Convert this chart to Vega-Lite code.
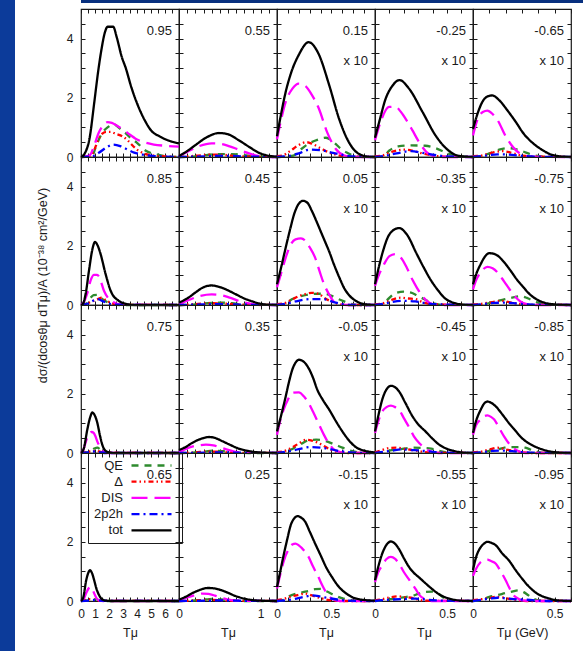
{
"$schema":"https://vega.github.io/schema/vega-lite/v6.json",
"padding":0,
"background":"#ffffff",
"config":{
"font":"Liberation Sans",
"view":{"stroke":"#1a1a1a","strokeWidth":1.2},
"axis":{"grid":false,"domain":false,"tickSize":-4,"tickColor":"#1a1a1a","tickWidth":1,"labelFont":"Liberation Sans","labelFontSize":12,"labelColor":"#1a1a1a","labelPadding":11,"titleFont":"Liberation Sans","titleFontSize":12.5,"titleFontWeight":"normal","titleColor":"#1a1a1a","labelFlush":false,"labelOverlap":false},
"axisX":{"titlePadding":7},
"axisY":{"tickCount":10,"labelPadding":12,"labelExpr":"datum.value%2==0?''+datum.value:''"},
"legend":{"orient":"none","legendX":88,"legendY":453,"direction":"vertical","strokeColor":"#1a1a1a","padding":5,"symbolType":"M-3.333,0H3.333","symbolSize":144,"symbolStrokeWidth":2.3,"labelFont":"Liberation Sans","labelFontSize":13,"labelColor":"#1a1a1a","labelAlign":"right","labelOffset":-36,"symbolOffset":51,"rowPadding":1.2},
"line":{"strokeWidth":2.3,"interpolate":"monotone"},
"text":{"font":"Liberation Sans","fontSize":13,"color":"#1a1a1a"}
},
"datasets":{
"d1":[{"s":"QE","x":0,"y":0},{"s":"QE","x":0.8,"y":0.05},{"s":"QE","x":1.1,"y":0.4},{"s":"QE","x":1.5,"y":0.8},{"s":"QE","x":1.9,"y":1.0},{"s":"QE","x":2.35,"y":1.1},{"s":"QE","x":2.8,"y":0.95},{"s":"QE","x":3.2,"y":0.8},{"s":"QE","x":3.6,"y":0.62},{"s":"QE","x":4.0,"y":0.48},{"s":"QE","x":4.6,"y":0.22},{"s":"QE","x":5.5,"y":0.08},{"s":"QE","x":6.2,"y":0.02},{"s":"QE","x":7,"y":0},
{"s":"Δ","x":0,"y":0},{"s":"Δ","x":0.7,"y":0.05},{"s":"Δ","x":1.0,"y":0.3},{"s":"Δ","x":1.25,"y":0.6},{"s":"Δ","x":1.5,"y":0.78},{"s":"Δ","x":1.8,"y":0.85},{"s":"Δ","x":2.1,"y":0.85},{"s":"Δ","x":2.5,"y":0.78},{"s":"Δ","x":2.95,"y":0.7},{"s":"Δ","x":3.3,"y":0.58},{"s":"Δ","x":3.6,"y":0.43},{"s":"Δ","x":4.0,"y":0.25},{"s":"Δ","x":4.5,"y":0.12},{"s":"Δ","x":5.2,"y":0.05},{"s":"Δ","x":6,"y":0.02},{"s":"Δ","x":7,"y":0},
{"s":"DIS","x":0,"y":0},{"s":"DIS","x":0.6,"y":0.05},{"s":"DIS","x":0.95,"y":0.4},{"s":"DIS","x":1.25,"y":0.8},{"s":"DIS","x":1.55,"y":1.05},{"s":"DIS","x":1.9,"y":1.18},{"s":"DIS","x":2.2,"y":1.15},{"s":"DIS","x":2.6,"y":1.05},{"s":"DIS","x":3.0,"y":0.93},{"s":"DIS","x":3.5,"y":0.75},{"s":"DIS","x":3.9,"y":0.62},{"s":"DIS","x":4.5,"y":0.5},{"s":"DIS","x":5.2,"y":0.42},{"s":"DIS","x":6,"y":0.38},{"s":"DIS","x":7,"y":0.35},
{"s":"2p2h","x":0,"y":0},{"s":"2p2h","x":0.8,"y":0.02},{"s":"2p2h","x":1.3,"y":0.15},{"s":"2p2h","x":1.8,"y":0.32},{"s":"2p2h","x":2.3,"y":0.42},{"s":"2p2h","x":2.8,"y":0.37},{"s":"2p2h","x":3.2,"y":0.28},{"s":"2p2h","x":3.8,"y":0.15},{"s":"2p2h","x":4.4,"y":0.08},{"s":"2p2h","x":5.2,"y":0.03},{"s":"2p2h","x":7,"y":0},
{"s":"tot","x":0,"y":0},{"s":"tot","x":0.3,"y":0.15},{"s":"tot","x":0.6,"y":0.6},{"s":"tot","x":0.95,"y":1.85},{"s":"tot","x":1.2,"y":2.8},{"s":"tot","x":1.45,"y":3.6},{"s":"tot","x":1.7,"y":4.2},{"s":"tot","x":1.9,"y":4.4},{"s":"tot","x":2.3,"y":4.4},{"s":"tot","x":2.55,"y":4.05},{"s":"tot","x":2.9,"y":3.4},{"s":"tot","x":3.2,"y":3.0},{"s":"tot","x":3.6,"y":2.35},{"s":"tot","x":4.1,"y":1.7},{"s":"tot","x":4.6,"y":1.2},{"s":"tot","x":5.0,"y":0.9},{"s":"tot","x":5.6,"y":0.7},{"s":"tot","x":6.3,"y":0.55},{"s":"tot","x":7,"y":0.46}],
"d2":[{"s":"QE","x":0,"y":0},{"s":"QE","x":0.2,"y":0.02},{"s":"QE","x":0.35,"y":0.07},{"s":"QE","x":0.5,"y":0.1},{"s":"QE","x":0.65,"y":0.1},{"s":"QE","x":0.8,"y":0.06},{"s":"QE","x":0.95,"y":0.02},{"s":"QE","x":1.2,"y":0},
{"s":"Δ","x":0,"y":0},{"s":"Δ","x":0.2,"y":0.04},{"s":"Δ","x":0.4,"y":0.08},{"s":"Δ","x":0.55,"y":0.07},{"s":"Δ","x":0.7,"y":0.03},{"s":"Δ","x":0.9,"y":0.01},{"s":"Δ","x":1.2,"y":0},
{"s":"DIS","x":0,"y":0.02},{"s":"DIS","x":0.12,"y":0.2},{"s":"DIS","x":0.25,"y":0.37},{"s":"DIS","x":0.4,"y":0.46},{"s":"DIS","x":0.5,"y":0.45},{"s":"DIS","x":0.62,"y":0.36},{"s":"DIS","x":0.72,"y":0.26},{"s":"DIS","x":0.85,"y":0.13},{"s":"DIS","x":0.95,"y":0.05},{"s":"DIS","x":1.05,"y":0.01},{"s":"DIS","x":1.2,"y":0},
{"s":"2p2h","x":0,"y":0},{"s":"2p2h","x":0.3,"y":0.02},{"s":"2p2h","x":0.55,"y":0.04},{"s":"2p2h","x":0.8,"y":0.02},{"s":"2p2h","x":1.2,"y":0},
{"s":"tot","x":0,"y":0.03},{"s":"tot","x":0.1,"y":0.2},{"s":"tot","x":0.2,"y":0.4},{"s":"tot","x":0.33,"y":0.65},{"s":"tot","x":0.49,"y":0.81},{"s":"tot","x":0.6,"y":0.77},{"s":"tot","x":0.73,"y":0.57},{"s":"tot","x":0.86,"y":0.34},{"s":"tot","x":0.98,"y":0.14},{"s":"tot","x":1.1,"y":0.04},{"s":"tot","x":1.2,"y":0.01}],
"d3":[{"s":"QE","x":0,"y":0},{"s":"QE","x":0.15,"y":0.05},{"s":"QE","x":0.2,"y":0.2},{"s":"QE","x":0.29,"y":0.45},{"s":"QE","x":0.37,"y":0.58},{"s":"QE","x":0.45,"y":0.65},{"s":"QE","x":0.52,"y":0.5},{"s":"QE","x":0.58,"y":0.3},{"s":"QE","x":0.64,"y":0.15},{"s":"QE","x":0.72,"y":0.03},{"s":"QE","x":0.8,"y":0},{"s":"QE","x":0.9,"y":0},
{"s":"Δ","x":0,"y":0.03},{"s":"Δ","x":0.05,"y":0.05},{"s":"Δ","x":0.12,"y":0.2},{"s":"Δ","x":0.19,"y":0.38},{"s":"Δ","x":0.27,"y":0.5},{"s":"Δ","x":0.32,"y":0.45},{"s":"Δ","x":0.4,"y":0.3},{"s":"Δ","x":0.48,"y":0.15},{"s":"Δ","x":0.55,"y":0.07},{"s":"Δ","x":0.65,"y":0.01},{"s":"Δ","x":0.9,"y":0},
{"s":"DIS","x":0,"y":0.6},{"s":"DIS","x":0.04,"y":1.3},{"s":"DIS","x":0.08,"y":1.86},{"s":"DIS","x":0.14,"y":2.3},{"s":"DIS","x":0.2,"y":2.48},{"s":"DIS","x":0.26,"y":2.4},{"s":"DIS","x":0.32,"y":2.1},{"s":"DIS","x":0.385,"y":1.63},{"s":"DIS","x":0.46,"y":0.84},{"s":"DIS","x":0.54,"y":0.27},{"s":"DIS","x":0.62,"y":0.05},{"s":"DIS","x":0.7,"y":0},{"s":"DIS","x":0.9,"y":0},
{"s":"2p2h","x":0,"y":0},{"s":"2p2h","x":0.1,"y":0.03},{"s":"2p2h","x":0.2,"y":0.12},{"s":"2p2h","x":0.3,"y":0.25},{"s":"2p2h","x":0.4,"y":0.23},{"s":"2p2h","x":0.5,"y":0.15},{"s":"2p2h","x":0.6,"y":0.07},{"s":"2p2h","x":0.7,"y":0.02},{"s":"2p2h","x":0.9,"y":0},
{"s":"tot","x":0,"y":0.7},{"s":"tot","x":0.04,"y":1.5},{"s":"tot","x":0.08,"y":2.2},{"s":"tot","x":0.13,"y":2.85},{"s":"tot","x":0.2,"y":3.45},{"s":"tot","x":0.29,"y":3.88},{"s":"tot","x":0.38,"y":3.5},{"s":"tot","x":0.48,"y":2.42},{"s":"tot","x":0.57,"y":1.29},{"s":"tot","x":0.66,"y":0.5},{"s":"tot","x":0.75,"y":0.11},{"s":"tot","x":0.84,"y":0.01},{"s":"tot","x":0.9,"y":0}],
"d4":[{"s":"QE","x":0,"y":0},{"s":"QE","x":0.06,"y":0.03},{"s":"QE","x":0.1,"y":0.22},{"s":"QE","x":0.16,"y":0.36},{"s":"QE","x":0.25,"y":0.39},{"s":"QE","x":0.35,"y":0.38},{"s":"QE","x":0.42,"y":0.3},{"s":"QE","x":0.5,"y":0.13},{"s":"QE","x":0.57,"y":0.03},{"s":"QE","x":0.68,"y":0},
{"s":"Δ","x":0,"y":0.02},{"s":"Δ","x":0.05,"y":0.05},{"s":"Δ","x":0.12,"y":0.18},{"s":"Δ","x":0.2,"y":0.25},{"s":"Δ","x":0.27,"y":0.2},{"s":"Δ","x":0.33,"y":0.12},{"s":"Δ","x":0.4,"y":0.05},{"s":"Δ","x":0.5,"y":0.01},{"s":"Δ","x":0.68,"y":0},
{"s":"DIS","x":0,"y":0.57},{"s":"DIS","x":0.04,"y":1.2},{"s":"DIS","x":0.097,"y":1.69},{"s":"DIS","x":0.14,"y":1.7},{"s":"DIS","x":0.18,"y":1.52},{"s":"DIS","x":0.224,"y":1.2},{"s":"DIS","x":0.26,"y":0.9},{"s":"DIS","x":0.305,"y":0.51},{"s":"DIS","x":0.375,"y":0.1},{"s":"DIS","x":0.45,"y":0},{"s":"DIS","x":0.68,"y":0},
{"s":"2p2h","x":0,"y":0},{"s":"2p2h","x":0.08,"y":0.05},{"s":"2p2h","x":0.15,"y":0.12},{"s":"2p2h","x":0.25,"y":0.2},{"s":"2p2h","x":0.33,"y":0.14},{"s":"2p2h","x":0.4,"y":0.08},{"s":"2p2h","x":0.5,"y":0.02},{"s":"2p2h","x":0.68,"y":0},
{"s":"tot","x":0,"y":0.65},{"s":"tot","x":0.03,"y":1.2},{"s":"tot","x":0.074,"y":1.97},{"s":"tot","x":0.12,"y":2.4},{"s":"tot","x":0.17,"y":2.6},{"s":"tot","x":0.236,"y":2.31},{"s":"tot","x":0.33,"y":1.52},{"s":"tot","x":0.42,"y":0.73},{"s":"tot","x":0.51,"y":0.22},{"s":"tot","x":0.58,"y":0.04},{"s":"tot","x":0.68,"y":0}],
"d5":[{"s":"QE","x":0,"y":0},{"s":"QE","x":0.05,"y":0.03},{"s":"QE","x":0.1,"y":0.12},{"s":"QE","x":0.16,"y":0.25},{"s":"QE","x":0.21,"y":0.3},{"s":"QE","x":0.26,"y":0.27},{"s":"QE","x":0.3,"y":0.2},{"s":"QE","x":0.36,"y":0.08},{"s":"QE","x":0.42,"y":0.02},{"s":"QE","x":0.6,"y":0},
{"s":"Δ","x":0,"y":0.03},{"s":"Δ","x":0.05,"y":0.05},{"s":"Δ","x":0.12,"y":0.15},{"s":"Δ","x":0.18,"y":0.2},{"s":"Δ","x":0.23,"y":0.15},{"s":"Δ","x":0.28,"y":0.07},{"s":"Δ","x":0.35,"y":0.02},{"s":"Δ","x":0.6,"y":0},
{"s":"DIS","x":0,"y":0.73},{"s":"DIS","x":0.03,"y":1.3},{"s":"DIS","x":0.06,"y":1.52},{"s":"DIS","x":0.088,"y":1.57},{"s":"DIS","x":0.12,"y":1.45},{"s":"DIS","x":0.15,"y":1.25},{"s":"DIS","x":0.2,"y":0.7},{"s":"DIS","x":0.25,"y":0.3},{"s":"DIS","x":0.3,"y":0.08},{"s":"DIS","x":0.35,"y":0.01},{"s":"DIS","x":0.6,"y":0},
{"s":"2p2h","x":0,"y":0},{"s":"2p2h","x":0.08,"y":0.05},{"s":"2p2h","x":0.15,"y":0.09},{"s":"2p2h","x":0.22,"y":0.08},{"s":"2p2h","x":0.3,"y":0.04},{"s":"2p2h","x":0.4,"y":0.01},{"s":"2p2h","x":0.6,"y":0},
{"s":"tot","x":0,"y":0.95},{"s":"tot","x":0.03,"y":1.5},{"s":"tot","x":0.057,"y":1.86},{"s":"tot","x":0.09,"y":2.05},{"s":"tot","x":0.118,"y":2.08},{"s":"tot","x":0.16,"y":1.92},{"s":"tot","x":0.21,"y":1.58},{"s":"tot","x":0.26,"y":1.2},{"s":"tot","x":0.31,"y":0.79},{"s":"tot","x":0.36,"y":0.5},{"s":"tot","x":0.415,"y":0.27},{"s":"tot","x":0.47,"y":0.1},{"s":"tot","x":0.52,"y":0.03},{"s":"tot","x":0.6,"y":0}],
"d6":[{"s":"QE","x":0,"y":0},{"s":"QE","x":0.4,"y":0.05},{"s":"QE","x":0.7,"y":0.25},{"s":"QE","x":0.9,"y":0.33},{"s":"QE","x":1.19,"y":0.34},{"s":"QE","x":1.4,"y":0.25},{"s":"QE","x":1.76,"y":0.13},{"s":"QE","x":2.2,"y":0.04},{"s":"QE","x":2.8,"y":0},{"s":"QE","x":7,"y":0},
{"s":"Δ","x":0,"y":0},{"s":"Δ","x":0.4,"y":0.05},{"s":"Δ","x":0.8,"y":0.12},{"s":"Δ","x":1.2,"y":0.2},{"s":"Δ","x":1.5,"y":0.25},{"s":"Δ","x":1.8,"y":0.15},{"s":"Δ","x":2.2,"y":0.06},{"s":"Δ","x":2.8,"y":0.01},{"s":"Δ","x":7,"y":0},
{"s":"DIS","x":0,"y":0},{"s":"DIS","x":0.2,"y":0.1},{"s":"DIS","x":0.45,"y":0.4},{"s":"DIS","x":0.7,"y":0.85},{"s":"DIS","x":0.93,"y":1.02},{"s":"DIS","x":1.15,"y":1.02},{"s":"DIS","x":1.3,"y":0.95},{"s":"DIS","x":1.64,"y":0.48},{"s":"DIS","x":2.0,"y":0.2},{"s":"DIS","x":2.3,"y":0.1},{"s":"DIS","x":2.8,"y":0.02},{"s":"DIS","x":7,"y":0},
{"s":"2p2h","x":0,"y":0},{"s":"2p2h","x":0.5,"y":0.05},{"s":"2p2h","x":0.9,"y":0.15},{"s":"2p2h","x":1.2,"y":0.2},{"s":"2p2h","x":1.6,"y":0.12},{"s":"2p2h","x":2.0,"y":0.05},{"s":"2p2h","x":2.6,"y":0.01},{"s":"2p2h","x":7,"y":0},
{"s":"tot","x":0,"y":0},{"s":"tot","x":0.15,"y":0.05},{"s":"tot","x":0.33,"y":0.37},{"s":"tot","x":0.57,"y":1.16},{"s":"tot","x":0.8,"y":1.85},{"s":"tot","x":1.0,"y":2.13},{"s":"tot","x":1.2,"y":2.0},{"s":"tot","x":1.4,"y":1.72},{"s":"tot","x":1.76,"y":1.04},{"s":"tot","x":2.12,"y":0.48},{"s":"tot","x":2.7,"y":0.14},{"s":"tot","x":3.2,"y":0.04},{"s":"tot","x":3.8,"y":0},{"s":"tot","x":7,"y":0}],
"d7":[{"s":"QE","x":0,"y":0},{"s":"QE","x":0.2,"y":0.02},{"s":"QE","x":0.35,"y":0.06},{"s":"QE","x":0.5,"y":0.08},{"s":"QE","x":0.65,"y":0.06},{"s":"QE","x":0.8,"y":0.02},{"s":"QE","x":1.2,"y":0},
{"s":"Δ","x":0,"y":0},{"s":"Δ","x":0.2,"y":0.03},{"s":"Δ","x":0.4,"y":0.06},{"s":"Δ","x":0.55,"y":0.05},{"s":"Δ","x":0.7,"y":0.02},{"s":"Δ","x":1.2,"y":0},
{"s":"DIS","x":0,"y":0.03},{"s":"DIS","x":0.12,"y":0.17},{"s":"DIS","x":0.25,"y":0.3},{"s":"DIS","x":0.4,"y":0.36},{"s":"DIS","x":0.52,"y":0.33},{"s":"DIS","x":0.62,"y":0.25},{"s":"DIS","x":0.78,"y":0.1},{"s":"DIS","x":0.9,"y":0.03},{"s":"DIS","x":1.0,"y":0},{"s":"DIS","x":1.2,"y":0},
{"s":"2p2h","x":0,"y":0},{"s":"2p2h","x":0.3,"y":0.02},{"s":"2p2h","x":0.5,"y":0.03},{"s":"2p2h","x":0.8,"y":0.01},{"s":"2p2h","x":1.2,"y":0},
{"s":"tot","x":0,"y":0.08},{"s":"tot","x":0.1,"y":0.22},{"s":"tot","x":0.2,"y":0.42},{"s":"tot","x":0.3,"y":0.6},{"s":"tot","x":0.4,"y":0.66},{"s":"tot","x":0.47,"y":0.63},{"s":"tot","x":0.58,"y":0.52},{"s":"tot","x":0.69,"y":0.37},{"s":"tot","x":0.8,"y":0.22},{"s":"tot","x":0.9,"y":0.12},{"s":"tot","x":1.0,"y":0.04},{"s":"tot","x":1.1,"y":0.01},{"s":"tot","x":1.2,"y":0}],
"d8":[{"s":"QE","x":0,"y":0},{"s":"QE","x":0.08,"y":0.05},{"s":"QE","x":0.14,"y":0.2},{"s":"QE","x":0.22,"y":0.3},{"s":"QE","x":0.32,"y":0.37},{"s":"QE","x":0.42,"y":0.38},{"s":"QE","x":0.49,"y":0.33},{"s":"QE","x":0.55,"y":0.22},{"s":"QE","x":0.61,"y":0.13},{"s":"QE","x":0.68,"y":0.04},{"s":"QE","x":0.75,"y":0},{"s":"QE","x":0.9,"y":0},
{"s":"Δ","x":0,"y":0.03},{"s":"Δ","x":0.06,"y":0.05},{"s":"Δ","x":0.12,"y":0.15},{"s":"Δ","x":0.2,"y":0.3},{"s":"Δ","x":0.26,"y":0.37},{"s":"Δ","x":0.32,"y":0.41},{"s":"Δ","x":0.38,"y":0.38},{"s":"Δ","x":0.43,"y":0.25},{"s":"Δ","x":0.48,"y":0.15},{"s":"Δ","x":0.55,"y":0.05},{"s":"Δ","x":0.65,"y":0},{"s":"Δ","x":0.9,"y":0},
{"s":"DIS","x":0,"y":0.6},{"s":"DIS","x":0.04,"y":1.1},{"s":"DIS","x":0.08,"y":1.6},{"s":"DIS","x":0.12,"y":2.0},{"s":"DIS","x":0.17,"y":2.22},{"s":"DIS","x":0.22,"y":2.25},{"s":"DIS","x":0.26,"y":2.17},{"s":"DIS","x":0.3,"y":1.95},{"s":"DIS","x":0.35,"y":1.6},{"s":"DIS","x":0.39,"y":1.15},{"s":"DIS","x":0.43,"y":0.72},{"s":"DIS","x":0.48,"y":0.35},{"s":"DIS","x":0.52,"y":0.12},{"s":"DIS","x":0.57,"y":0.03},{"s":"DIS","x":0.65,"y":0},{"s":"DIS","x":0.9,"y":0},
{"s":"2p2h","x":0,"y":0},{"s":"2p2h","x":0.08,"y":0.04},{"s":"2p2h","x":0.17,"y":0.12},{"s":"2p2h","x":0.25,"y":0.18},{"s":"2p2h","x":0.32,"y":0.2},{"s":"2p2h","x":0.42,"y":0.2},{"s":"2p2h","x":0.52,"y":0.1},{"s":"2p2h","x":0.6,"y":0.03},{"s":"2p2h","x":0.7,"y":0},{"s":"2p2h","x":0.9,"y":0},
{"s":"tot","x":0,"y":0.7},{"s":"tot","x":0.04,"y":1.3},{"s":"tot","x":0.08,"y":1.94},{"s":"tot","x":0.12,"y":2.55},{"s":"tot","x":0.16,"y":3.1},{"s":"tot","x":0.2,"y":3.42},{"s":"tot","x":0.24,"y":3.52},{"s":"tot","x":0.28,"y":3.45},{"s":"tot","x":0.32,"y":3.18},{"s":"tot","x":0.36,"y":2.85},{"s":"tot","x":0.4,"y":2.5},{"s":"tot","x":0.44,"y":2.15},{"s":"tot","x":0.48,"y":1.8},{"s":"tot","x":0.52,"y":1.4},{"s":"tot","x":0.57,"y":0.95},{"s":"tot","x":0.62,"y":0.55},{"s":"tot","x":0.67,"y":0.3},{"s":"tot","x":0.72,"y":0.15},{"s":"tot","x":0.8,"y":0.03},{"s":"tot","x":0.9,"y":0}],
"d9":[{"s":"QE","x":0,"y":0},{"s":"QE","x":0.04,"y":0.03},{"s":"QE","x":0.08,"y":0.15},{"s":"QE","x":0.13,"y":0.37},{"s":"QE","x":0.2,"y":0.45},{"s":"QE","x":0.25,"y":0.42},{"s":"QE","x":0.29,"y":0.33},{"s":"QE","x":0.34,"y":0.2},{"s":"QE","x":0.39,"y":0.08},{"s":"QE","x":0.45,"y":0.01},{"s":"QE","x":0.68,"y":0},
{"s":"Δ","x":0,"y":0.02},{"s":"Δ","x":0.05,"y":0.05},{"s":"Δ","x":0.12,"y":0.18},{"s":"Δ","x":0.18,"y":0.25},{"s":"Δ","x":0.23,"y":0.22},{"s":"Δ","x":0.28,"y":0.2},{"s":"Δ","x":0.33,"y":0.1},{"s":"Δ","x":0.39,"y":0.03},{"s":"Δ","x":0.68,"y":0},
{"s":"DIS","x":0,"y":0.65},{"s":"DIS","x":0.03,"y":1.05},{"s":"DIS","x":0.063,"y":1.38},{"s":"DIS","x":0.1,"y":1.65},{"s":"DIS","x":0.14,"y":1.72},{"s":"DIS","x":0.18,"y":1.6},{"s":"DIS","x":0.22,"y":1.27},{"s":"DIS","x":0.26,"y":0.85},{"s":"DIS","x":0.29,"y":0.59},{"s":"DIS","x":0.33,"y":0.3},{"s":"DIS","x":0.36,"y":0.14},{"s":"DIS","x":0.4,"y":0.03},{"s":"DIS","x":0.45,"y":0},{"s":"DIS","x":0.68,"y":0},
{"s":"2p2h","x":0,"y":0},{"s":"2p2h","x":0.06,"y":0.04},{"s":"2p2h","x":0.12,"y":0.1},{"s":"2p2h","x":0.2,"y":0.14},{"s":"2p2h","x":0.28,"y":0.12},{"s":"2p2h","x":0.34,"y":0.07},{"s":"2p2h","x":0.4,"y":0.03},{"s":"2p2h","x":0.68,"y":0},
{"s":"tot","x":0,"y":0.7},{"s":"tot","x":0.03,"y":1.35},{"s":"tot","x":0.063,"y":1.94},{"s":"tot","x":0.09,"y":2.3},{"s":"tot","x":0.12,"y":2.5},{"s":"tot","x":0.167,"y":2.6},{"s":"tot","x":0.22,"y":2.39},{"s":"tot","x":0.29,"y":1.72},{"s":"tot","x":0.34,"y":1.25},{"s":"tot","x":0.39,"y":0.82},{"s":"tot","x":0.44,"y":0.48},{"s":"tot","x":0.48,"y":0.25},{"s":"tot","x":0.53,"y":0.1},{"s":"tot","x":0.57,"y":0.04},{"s":"tot","x":0.62,"y":0.01},{"s":"tot","x":0.68,"y":0}],
"d10":[{"s":"QE","x":0,"y":0},{"s":"QE","x":0.06,"y":0.02},{"s":"QE","x":0.11,"y":0.08},{"s":"QE","x":0.15,"y":0.14},{"s":"QE","x":0.19,"y":0.19},{"s":"QE","x":0.24,"y":0.25},{"s":"QE","x":0.29,"y":0.3},{"s":"QE","x":0.33,"y":0.24},{"s":"QE","x":0.37,"y":0.14},{"s":"QE","x":0.42,"y":0.04},{"s":"QE","x":0.47,"y":0.01},{"s":"QE","x":0.6,"y":0},
{"s":"Δ","x":0,"y":0.02},{"s":"Δ","x":0.05,"y":0.04},{"s":"Δ","x":0.12,"y":0.1},{"s":"Δ","x":0.17,"y":0.14},{"s":"Δ","x":0.22,"y":0.1},{"s":"Δ","x":0.27,"y":0.05},{"s":"Δ","x":0.33,"y":0.01},{"s":"Δ","x":0.6,"y":0},
{"s":"DIS","x":0,"y":0.53},{"s":"DIS","x":0.02,"y":0.85},{"s":"DIS","x":0.047,"y":1.1},{"s":"DIS","x":0.088,"y":1.29},{"s":"DIS","x":0.12,"y":1.24},{"s":"DIS","x":0.15,"y":1.1},{"s":"DIS","x":0.19,"y":0.8},{"s":"DIS","x":0.23,"y":0.48},{"s":"DIS","x":0.26,"y":0.27},{"s":"DIS","x":0.29,"y":0.12},{"s":"DIS","x":0.33,"y":0.03},{"s":"DIS","x":0.38,"y":0},{"s":"DIS","x":0.6,"y":0},
{"s":"2p2h","x":0,"y":0},{"s":"2p2h","x":0.06,"y":0.03},{"s":"2p2h","x":0.13,"y":0.07},{"s":"2p2h","x":0.2,"y":0.08},{"s":"2p2h","x":0.27,"y":0.05},{"s":"2p2h","x":0.34,"y":0.02},{"s":"2p2h","x":0.6,"y":0},
{"s":"tot","x":0,"y":0.7},{"s":"tot","x":0.02,"y":1.05},{"s":"tot","x":0.047,"y":1.38},{"s":"tot","x":0.075,"y":1.65},{"s":"tot","x":0.098,"y":1.75},{"s":"tot","x":0.12,"y":1.74},{"s":"tot","x":0.15,"y":1.67},{"s":"tot","x":0.19,"y":1.45},{"s":"tot","x":0.23,"y":1.16},{"s":"tot","x":0.27,"y":0.85},{"s":"tot","x":0.31,"y":0.59},{"s":"tot","x":0.35,"y":0.35},{"s":"tot","x":0.39,"y":0.19},{"s":"tot","x":0.43,"y":0.09},{"s":"tot","x":0.48,"y":0.03},{"s":"tot","x":0.6,"y":0}],
"d11":[{"s":"QE","x":0,"y":0},{"s":"QE","x":0.4,"y":0.02},{"s":"QE","x":0.7,"y":0.08},{"s":"QE","x":0.95,"y":0.15},{"s":"QE","x":1.17,"y":0.18},{"s":"QE","x":1.35,"y":0.13},{"s":"QE","x":1.55,"y":0.06},{"s":"QE","x":1.8,"y":0.01},{"s":"QE","x":7,"y":0},
{"s":"Δ","x":0,"y":0},{"s":"Δ","x":0.4,"y":0.03},{"s":"Δ","x":0.8,"y":0.06},{"s":"Δ","x":1.1,"y":0.07},{"s":"Δ","x":1.4,"y":0.04},{"s":"Δ","x":1.8,"y":0.01},{"s":"Δ","x":7,"y":0},
{"s":"DIS","x":0,"y":0},{"s":"DIS","x":0.15,"y":0.08},{"s":"DIS","x":0.36,"y":0.4},{"s":"DIS","x":0.55,"y":0.62},{"s":"DIS","x":0.76,"y":0.71},{"s":"DIS","x":0.9,"y":0.68},{"s":"DIS","x":1.0,"y":0.6},{"s":"DIS","x":1.2,"y":0.35},{"s":"DIS","x":1.4,"y":0.16},{"s":"DIS","x":1.6,"y":0.05},{"s":"DIS","x":1.9,"y":0},{"s":"DIS","x":7,"y":0},
{"s":"2p2h","x":0,"y":0},{"s":"2p2h","x":0.5,"y":0.02},{"s":"2p2h","x":0.9,"y":0.05},{"s":"2p2h","x":1.3,"y":0.03},{"s":"2p2h","x":1.8,"y":0},{"s":"2p2h","x":7,"y":0},
{"s":"tot","x":0,"y":0},{"s":"tot","x":0.2,"y":0.15},{"s":"tot","x":0.45,"y":0.79},{"s":"tot","x":0.65,"y":1.2},{"s":"tot","x":0.81,"y":1.37},{"s":"tot","x":0.95,"y":1.3},{"s":"tot","x":1.17,"y":1.01},{"s":"tot","x":1.35,"y":0.6},{"s":"tot","x":1.52,"y":0.28},{"s":"tot","x":1.7,"y":0.1},{"s":"tot","x":1.95,"y":0.03},{"s":"tot","x":2.3,"y":0},{"s":"tot","x":7,"y":0}],
"d12":[{"s":"QE","x":0,"y":0},{"s":"QE","x":0.2,"y":0.02},{"s":"QE","x":0.32,"y":0.05},{"s":"QE","x":0.42,"y":0.08},{"s":"QE","x":0.55,"y":0.06},{"s":"QE","x":0.7,"y":0.02},{"s":"QE","x":0.85,"y":0},{"s":"QE","x":1.2,"y":0},
{"s":"Δ","x":0,"y":0},{"s":"Δ","x":0.2,"y":0.02},{"s":"Δ","x":0.35,"y":0.05},{"s":"Δ","x":0.5,"y":0.04},{"s":"Δ","x":0.65,"y":0.01},{"s":"Δ","x":1.2,"y":0},
{"s":"DIS","x":0,"y":0.03},{"s":"DIS","x":0.12,"y":0.18},{"s":"DIS","x":0.22,"y":0.25},{"s":"DIS","x":0.33,"y":0.28},{"s":"DIS","x":0.42,"y":0.26},{"s":"DIS","x":0.49,"y":0.2},{"s":"DIS","x":0.58,"y":0.12},{"s":"DIS","x":0.68,"y":0.05},{"s":"DIS","x":0.8,"y":0.01},{"s":"DIS","x":1.2,"y":0},
{"s":"2p2h","x":0,"y":0},{"s":"2p2h","x":0.3,"y":0.01},{"s":"2p2h","x":0.5,"y":0.02},{"s":"2p2h","x":0.7,"y":0.01},{"s":"2p2h","x":1.2,"y":0},
{"s":"tot","x":0,"y":0.1},{"s":"tot","x":0.08,"y":0.2},{"s":"tot","x":0.16,"y":0.34},{"s":"tot","x":0.26,"y":0.47},{"s":"tot","x":0.37,"y":0.54},{"s":"tot","x":0.45,"y":0.5},{"s":"tot","x":0.53,"y":0.4},{"s":"tot","x":0.63,"y":0.27},{"s":"tot","x":0.73,"y":0.15},{"s":"tot","x":0.83,"y":0.08},{"s":"tot","x":0.94,"y":0.03},{"s":"tot","x":1.05,"y":0.01},{"s":"tot","x":1.2,"y":0}],
"d13":[{"s":"QE","x":0,"y":0},{"s":"QE","x":0.08,"y":0.03},{"s":"QE","x":0.13,"y":0.12},{"s":"QE","x":0.17,"y":0.2},{"s":"QE","x":0.23,"y":0.32},{"s":"QE","x":0.29,"y":0.43},{"s":"QE","x":0.36,"y":0.45},{"s":"QE","x":0.44,"y":0.41},{"s":"QE","x":0.52,"y":0.3},{"s":"QE","x":0.6,"y":0.18},{"s":"QE","x":0.67,"y":0.08},{"s":"QE","x":0.75,"y":0.02},{"s":"QE","x":0.84,"y":0},{"s":"QE","x":0.9,"y":0},
{"s":"Δ","x":0,"y":0.03},{"s":"Δ","x":0.05,"y":0.05},{"s":"Δ","x":0.12,"y":0.15},{"s":"Δ","x":0.2,"y":0.32},{"s":"Δ","x":0.27,"y":0.45},{"s":"Δ","x":0.32,"y":0.42},{"s":"Δ","x":0.38,"y":0.34},{"s":"Δ","x":0.44,"y":0.22},{"s":"Δ","x":0.5,"y":0.1},{"s":"Δ","x":0.57,"y":0.03},{"s":"Δ","x":0.65,"y":0},{"s":"Δ","x":0.9,"y":0},
{"s":"DIS","x":0,"y":0.62},{"s":"DIS","x":0.03,"y":1.1},{"s":"DIS","x":0.06,"y":1.46},{"s":"DIS","x":0.1,"y":1.8},{"s":"DIS","x":0.14,"y":2.03},{"s":"DIS","x":0.2,"y":2.05},{"s":"DIS","x":0.25,"y":1.9},{"s":"DIS","x":0.29,"y":1.69},{"s":"DIS","x":0.33,"y":1.4},{"s":"DIS","x":0.38,"y":1.01},{"s":"DIS","x":0.43,"y":0.62},{"s":"DIS","x":0.48,"y":0.3},{"s":"DIS","x":0.53,"y":0.1},{"s":"DIS","x":0.58,"y":0.03},{"s":"DIS","x":0.65,"y":0},{"s":"DIS","x":0.9,"y":0},
{"s":"2p2h","x":0,"y":0},{"s":"2p2h","x":0.1,"y":0.05},{"s":"2p2h","x":0.2,"y":0.13},{"s":"2p2h","x":0.31,"y":0.2},{"s":"2p2h","x":0.4,"y":0.18},{"s":"2p2h","x":0.48,"y":0.14},{"s":"2p2h","x":0.55,"y":0.08},{"s":"2p2h","x":0.63,"y":0.04},{"s":"2p2h","x":0.72,"y":0.01},{"s":"2p2h","x":0.9,"y":0},
{"s":"tot","x":0,"y":0.73},{"s":"tot","x":0.04,"y":1.3},{"s":"tot","x":0.08,"y":1.91},{"s":"tot","x":0.11,"y":2.4},{"s":"tot","x":0.14,"y":2.81},{"s":"tot","x":0.17,"y":3.05},{"s":"tot","x":0.2,"y":3.15},{"s":"tot","x":0.24,"y":3.1},{"s":"tot","x":0.28,"y":2.93},{"s":"tot","x":0.33,"y":2.55},{"s":"tot","x":0.37,"y":2.14},{"s":"tot","x":0.42,"y":1.8},{"s":"tot","x":0.48,"y":1.46},{"s":"tot","x":0.54,"y":1.08},{"s":"tot","x":0.6,"y":0.73},{"s":"tot","x":0.66,"y":0.43},{"s":"tot","x":0.72,"y":0.21},{"s":"tot","x":0.78,"y":0.1},{"s":"tot","x":0.84,"y":0.05},{"s":"tot","x":0.9,"y":0.02}],
"d14":[{"s":"QE","x":0,"y":0},{"s":"QE","x":0.05,"y":0.03},{"s":"QE","x":0.1,"y":0.08},{"s":"QE","x":0.17,"y":0.12},{"s":"QE","x":0.26,"y":0.18},{"s":"QE","x":0.33,"y":0.17},{"s":"QE","x":0.39,"y":0.15},{"s":"QE","x":0.44,"y":0.08},{"s":"QE","x":0.5,"y":0.02},{"s":"QE","x":0.68,"y":0},
{"s":"Δ","x":0,"y":0.02},{"s":"Δ","x":0.05,"y":0.1},{"s":"Δ","x":0.1,"y":0.17},{"s":"Δ","x":0.15,"y":0.18},{"s":"Δ","x":0.21,"y":0.14},{"s":"Δ","x":0.26,"y":0.1},{"s":"Δ","x":0.32,"y":0.05},{"s":"Δ","x":0.4,"y":0.01},{"s":"Δ","x":0.68,"y":0},
{"s":"DIS","x":0,"y":0.68},{"s":"DIS","x":0.025,"y":1.1},{"s":"DIS","x":0.05,"y":1.4},{"s":"DIS","x":0.08,"y":1.55},{"s":"DIS","x":0.11,"y":1.6},{"s":"DIS","x":0.14,"y":1.55},{"s":"DIS","x":0.167,"y":1.46},{"s":"DIS","x":0.2,"y":1.18},{"s":"DIS","x":0.24,"y":0.84},{"s":"DIS","x":0.27,"y":0.56},{"s":"DIS","x":0.31,"y":0.32},{"s":"DIS","x":0.35,"y":0.15},{"s":"DIS","x":0.39,"y":0.05},{"s":"DIS","x":0.44,"y":0},{"s":"DIS","x":0.68,"y":0},
{"s":"2p2h","x":0,"y":0},{"s":"2p2h","x":0.06,"y":0.04},{"s":"2p2h","x":0.12,"y":0.08},{"s":"2p2h","x":0.18,"y":0.12},{"s":"2p2h","x":0.25,"y":0.1},{"s":"2p2h","x":0.32,"y":0.08},{"s":"2p2h","x":0.4,"y":0.04},{"s":"2p2h","x":0.48,"y":0.01},{"s":"2p2h","x":0.68,"y":0},
{"s":"tot","x":0,"y":0.73},{"s":"tot","x":0.025,"y":1.3},{"s":"tot","x":0.05,"y":1.8},{"s":"tot","x":0.08,"y":2.15},{"s":"tot","x":0.11,"y":2.27},{"s":"tot","x":0.14,"y":2.22},{"s":"tot","x":0.167,"y":2.08},{"s":"tot","x":0.21,"y":1.7},{"s":"tot","x":0.26,"y":1.24},{"s":"tot","x":0.3,"y":0.97},{"s":"tot","x":0.35,"y":0.73},{"s":"tot","x":0.4,"y":0.48},{"s":"tot","x":0.44,"y":0.3},{"s":"tot","x":0.49,"y":0.16},{"s":"tot","x":0.54,"y":0.08},{"s":"tot","x":0.6,"y":0.02},{"s":"tot","x":0.68,"y":0}],
"d15":[{"s":"QE","x":0,"y":0},{"s":"QE","x":0.06,"y":0.03},{"s":"QE","x":0.1,"y":0.07},{"s":"QE","x":0.15,"y":0.12},{"s":"QE","x":0.22,"y":0.2},{"s":"QE","x":0.28,"y":0.2},{"s":"QE","x":0.32,"y":0.18},{"s":"QE","x":0.36,"y":0.1},{"s":"QE","x":0.4,"y":0.03},{"s":"QE","x":0.45,"y":0},{"s":"QE","x":0.6,"y":0},
{"s":"Δ","x":0,"y":0.02},{"s":"Δ","x":0.05,"y":0.05},{"s":"Δ","x":0.1,"y":0.12},{"s":"Δ","x":0.15,"y":0.18},{"s":"Δ","x":0.2,"y":0.12},{"s":"Δ","x":0.24,"y":0.08},{"s":"Δ","x":0.3,"y":0.03},{"s":"Δ","x":0.36,"y":0},{"s":"Δ","x":0.6,"y":0},
{"s":"DIS","x":0,"y":0.62},{"s":"DIS","x":0.02,"y":0.95},{"s":"DIS","x":0.047,"y":1.13},{"s":"DIS","x":0.07,"y":1.25},{"s":"DIS","x":0.088,"y":1.27},{"s":"DIS","x":0.11,"y":1.22},{"s":"DIS","x":0.13,"y":1.13},{"s":"DIS","x":0.16,"y":0.85},{"s":"DIS","x":0.19,"y":0.56},{"s":"DIS","x":0.22,"y":0.32},{"s":"DIS","x":0.24,"y":0.2},{"s":"DIS","x":0.28,"y":0.06},{"s":"DIS","x":0.32,"y":0},{"s":"DIS","x":0.6,"y":0},
{"s":"2p2h","x":0,"y":0},{"s":"2p2h","x":0.06,"y":0.03},{"s":"2p2h","x":0.12,"y":0.07},{"s":"2p2h","x":0.18,"y":0.08},{"s":"2p2h","x":0.24,"y":0.06},{"s":"2p2h","x":0.3,"y":0.03},{"s":"2p2h","x":0.38,"y":0.01},{"s":"2p2h","x":0.6,"y":0},
{"s":"tot","x":0,"y":0.68},{"s":"tot","x":0.02,"y":1.1},{"s":"tot","x":0.047,"y":1.46},{"s":"tot","x":0.07,"y":1.68},{"s":"tot","x":0.088,"y":1.74},{"s":"tot","x":0.11,"y":1.7},{"s":"tot","x":0.14,"y":1.57},{"s":"tot","x":0.18,"y":1.3},{"s":"tot","x":0.22,"y":1.01},{"s":"tot","x":0.26,"y":0.75},{"s":"tot","x":0.3,"y":0.5},{"s":"tot","x":0.35,"y":0.3},{"s":"tot","x":0.4,"y":0.17},{"s":"tot","x":0.45,"y":0.08},{"s":"tot","x":0.5,"y":0.03},{"s":"tot","x":0.6,"y":0}],
"d16":[{"s":"QE","x":0,"y":0},{"s":"QE","x":0.5,"y":0.02},{"s":"QE","x":0.8,"y":0.05},{"s":"QE","x":1.0,"y":0.06},{"s":"QE","x":1.3,"y":0.03},{"s":"QE","x":1.6,"y":0},{"s":"QE","x":7,"y":0},
{"s":"Δ","x":0,"y":0},{"s":"Δ","x":0.3,"y":0.03},{"s":"Δ","x":0.6,"y":0.06},{"s":"Δ","x":0.9,"y":0.04},{"s":"Δ","x":1.3,"y":0.01},{"s":"Δ","x":7,"y":0},
{"s":"DIS","x":0,"y":0},{"s":"DIS","x":0.2,"y":0.08},{"s":"DIS","x":0.4,"y":0.3},{"s":"DIS","x":0.55,"y":0.43},{"s":"DIS","x":0.67,"y":0.48},{"s":"DIS","x":0.8,"y":0.42},{"s":"DIS","x":0.95,"y":0.25},{"s":"DIS","x":1.1,"y":0.1},{"s":"DIS","x":1.3,"y":0.02},{"s":"DIS","x":1.6,"y":0},{"s":"DIS","x":7,"y":0},
{"s":"2p2h","x":0,"y":0},{"s":"2p2h","x":0.5,"y":0.01},{"s":"2p2h","x":0.9,"y":0.03},{"s":"2p2h","x":1.3,"y":0.01},{"s":"2p2h","x":7,"y":0},
{"s":"tot","x":0,"y":0},{"s":"tot","x":0.15,"y":0.1},{"s":"tot","x":0.38,"y":0.72},{"s":"tot","x":0.52,"y":0.95},{"s":"tot","x":0.64,"y":1.04},{"s":"tot","x":0.78,"y":0.95},{"s":"tot","x":0.93,"y":0.72},{"s":"tot","x":1.1,"y":0.42},{"s":"tot","x":1.29,"y":0.2},{"s":"tot","x":1.5,"y":0.06},{"s":"tot","x":1.8,"y":0.01},{"s":"tot","x":2.2,"y":0},{"s":"tot","x":7,"y":0}],
"d17":[{"s":"QE","x":0,"y":0},{"s":"QE","x":0.2,"y":0.02},{"s":"QE","x":0.32,"y":0.05},{"s":"QE","x":0.42,"y":0.07},{"s":"QE","x":0.52,"y":0.05},{"s":"QE","x":0.65,"y":0.02},{"s":"QE","x":0.8,"y":0},{"s":"QE","x":1.2,"y":0},
{"s":"Δ","x":0,"y":0},{"s":"Δ","x":0.2,"y":0.02},{"s":"Δ","x":0.35,"y":0.04},{"s":"Δ","x":0.5,"y":0.03},{"s":"Δ","x":0.65,"y":0.01},{"s":"Δ","x":1.2,"y":0},
{"s":"DIS","x":0,"y":0.02},{"s":"DIS","x":0.1,"y":0.12},{"s":"DIS","x":0.2,"y":0.2},{"s":"DIS","x":0.29,"y":0.25},{"s":"DIS","x":0.36,"y":0.24},{"s":"DIS","x":0.44,"y":0.18},{"s":"DIS","x":0.5,"y":0.12},{"s":"DIS","x":0.6,"y":0.05},{"s":"DIS","x":0.7,"y":0.01},{"s":"DIS","x":1.2,"y":0},
{"s":"2p2h","x":0,"y":0},{"s":"2p2h","x":0.3,"y":0.01},{"s":"2p2h","x":0.5,"y":0.02},{"s":"2p2h","x":0.7,"y":0.01},{"s":"2p2h","x":1.2,"y":0},
{"s":"tot","x":0,"y":0.05},{"s":"tot","x":0.08,"y":0.14},{"s":"tot","x":0.16,"y":0.26},{"s":"tot","x":0.26,"y":0.38},{"s":"tot","x":0.35,"y":0.44},{"s":"tot","x":0.42,"y":0.43},{"s":"tot","x":0.49,"y":0.39},{"s":"tot","x":0.58,"y":0.3},{"s":"tot","x":0.69,"y":0.17},{"s":"tot","x":0.8,"y":0.08},{"s":"tot","x":0.9,"y":0.03},{"s":"tot","x":1.0,"y":0.01},{"s":"tot","x":1.2,"y":0}],
"d18":[{"s":"QE","x":0,"y":0},{"s":"QE","x":0.06,"y":0.04},{"s":"QE","x":0.11,"y":0.16},{"s":"QE","x":0.18,"y":0.25},{"s":"QE","x":0.24,"y":0.3},{"s":"QE","x":0.29,"y":0.34},{"s":"QE","x":0.35,"y":0.4},{"s":"QE","x":0.4,"y":0.41},{"s":"QE","x":0.46,"y":0.32},{"s":"QE","x":0.53,"y":0.19},{"s":"QE","x":0.6,"y":0.09},{"s":"QE","x":0.68,"y":0.03},{"s":"QE","x":0.75,"y":0},{"s":"QE","x":0.9,"y":0},
{"s":"Δ","x":0,"y":0.03},{"s":"Δ","x":0.05,"y":0.06},{"s":"Δ","x":0.12,"y":0.14},{"s":"Δ","x":0.19,"y":0.2},{"s":"Δ","x":0.26,"y":0.25},{"s":"Δ","x":0.31,"y":0.2},{"s":"Δ","x":0.36,"y":0.14},{"s":"Δ","x":0.42,"y":0.08},{"s":"Δ","x":0.5,"y":0.02},{"s":"Δ","x":0.6,"y":0},{"s":"Δ","x":0.9,"y":0},
{"s":"DIS","x":0,"y":0.42},{"s":"DIS","x":0.03,"y":0.9},{"s":"DIS","x":0.064,"y":1.37},{"s":"DIS","x":0.1,"y":1.7},{"s":"DIS","x":0.14,"y":1.91},{"s":"DIS","x":0.17,"y":1.94},{"s":"DIS","x":0.2,"y":1.88},{"s":"DIS","x":0.25,"y":1.7},{"s":"DIS","x":0.29,"y":1.49},{"s":"DIS","x":0.33,"y":1.17},{"s":"DIS","x":0.38,"y":0.81},{"s":"DIS","x":0.42,"y":0.5},{"s":"DIS","x":0.47,"y":0.19},{"s":"DIS","x":0.52,"y":0.05},{"s":"DIS","x":0.58,"y":0},{"s":"DIS","x":0.9,"y":0},
{"s":"2p2h","x":0,"y":0},{"s":"2p2h","x":0.1,"y":0.03},{"s":"2p2h","x":0.18,"y":0.08},{"s":"2p2h","x":0.25,"y":0.14},{"s":"2p2h","x":0.32,"y":0.19},{"s":"2p2h","x":0.4,"y":0.15},{"s":"2p2h","x":0.48,"y":0.09},{"s":"2p2h","x":0.56,"y":0.05},{"s":"2p2h","x":0.65,"y":0.01},{"s":"2p2h","x":0.9,"y":0},
{"s":"tot","x":0,"y":0.47},{"s":"tot","x":0.03,"y":1.0},{"s":"tot","x":0.064,"y":1.6},{"s":"tot","x":0.095,"y":2.1},{"s":"tot","x":0.125,"y":2.55},{"s":"tot","x":0.16,"y":2.8},{"s":"tot","x":0.19,"y":2.87},{"s":"tot","x":0.22,"y":2.82},{"s":"tot","x":0.26,"y":2.67},{"s":"tot","x":0.3,"y":2.35},{"s":"tot","x":0.35,"y":1.94},{"s":"tot","x":0.4,"y":1.55},{"s":"tot","x":0.45,"y":1.15},{"s":"tot","x":0.51,"y":0.78},{"s":"tot","x":0.57,"y":0.47},{"s":"tot","x":0.63,"y":0.27},{"s":"tot","x":0.69,"y":0.13},{"s":"tot","x":0.75,"y":0.06},{"s":"tot","x":0.81,"y":0.03},{"s":"tot","x":0.9,"y":0.01}],
"d19":[{"s":"QE","x":0,"y":0},{"s":"QE","x":0.06,"y":0.03},{"s":"QE","x":0.12,"y":0.07},{"s":"QE","x":0.17,"y":0.11},{"s":"QE","x":0.22,"y":0.14},{"s":"QE","x":0.26,"y":0.17},{"s":"QE","x":0.3,"y":0.24},{"s":"QE","x":0.35,"y":0.31},{"s":"QE","x":0.4,"y":0.32},{"s":"QE","x":0.44,"y":0.25},{"s":"QE","x":0.48,"y":0.1},{"s":"QE","x":0.53,"y":0.02},{"s":"QE","x":0.68,"y":0},
{"s":"Δ","x":0,"y":0.02},{"s":"Δ","x":0.05,"y":0.06},{"s":"Δ","x":0.1,"y":0.12},{"s":"Δ","x":0.16,"y":0.16},{"s":"Δ","x":0.2,"y":0.13},{"s":"Δ","x":0.25,"y":0.11},{"s":"Δ","x":0.3,"y":0.05},{"s":"Δ","x":0.36,"y":0.01},{"s":"Δ","x":0.68,"y":0},
{"s":"DIS","x":0,"y":0.64},{"s":"DIS","x":0.025,"y":1.0},{"s":"DIS","x":0.05,"y":1.2},{"s":"DIS","x":0.08,"y":1.42},{"s":"DIS","x":0.11,"y":1.49},{"s":"DIS","x":0.14,"y":1.42},{"s":"DIS","x":0.167,"y":1.26},{"s":"DIS","x":0.2,"y":0.98},{"s":"DIS","x":0.24,"y":0.7},{"s":"DIS","x":0.28,"y":0.42},{"s":"DIS","x":0.31,"y":0.19},{"s":"DIS","x":0.35,"y":0.06},{"s":"DIS","x":0.4,"y":0},{"s":"DIS","x":0.68,"y":0},
{"s":"2p2h","x":0,"y":0},{"s":"2p2h","x":0.06,"y":0.03},{"s":"2p2h","x":0.12,"y":0.05},{"s":"2p2h","x":0.2,"y":0.07},{"s":"2p2h","x":0.28,"y":0.08},{"s":"2p2h","x":0.35,"y":0.05},{"s":"2p2h","x":0.42,"y":0.02},{"s":"2p2h","x":0.68,"y":0},
{"s":"tot","x":0,"y":0.7},{"s":"tot","x":0.025,"y":1.2},{"s":"tot","x":0.05,"y":1.6},{"s":"tot","x":0.08,"y":1.9},{"s":"tot","x":0.11,"y":2.01},{"s":"tot","x":0.14,"y":1.93},{"s":"tot","x":0.167,"y":1.75},{"s":"tot","x":0.2,"y":1.45},{"s":"tot","x":0.236,"y":1.15},{"s":"tot","x":0.27,"y":0.95},{"s":"tot","x":0.305,"y":0.8},{"s":"tot","x":0.35,"y":0.6},{"s":"tot","x":0.4,"y":0.39},{"s":"tot","x":0.44,"y":0.24},{"s":"tot","x":0.49,"y":0.12},{"s":"tot","x":0.54,"y":0.05},{"s":"tot","x":0.6,"y":0.01},{"s":"tot","x":0.68,"y":0}],
"d20":[{"s":"QE","x":0,"y":0},{"s":"QE","x":0.05,"y":0.04},{"s":"QE","x":0.1,"y":0.14},{"s":"QE","x":0.15,"y":0.2},{"s":"QE","x":0.2,"y":0.27},{"s":"QE","x":0.24,"y":0.32},{"s":"QE","x":0.28,"y":0.36},{"s":"QE","x":0.31,"y":0.3},{"s":"QE","x":0.34,"y":0.19},{"s":"QE","x":0.37,"y":0.08},{"s":"QE","x":0.41,"y":0.02},{"s":"QE","x":0.6,"y":0},
{"s":"Δ","x":0,"y":0.03},{"s":"Δ","x":0.05,"y":0.06},{"s":"Δ","x":0.1,"y":0.1},{"s":"Δ","x":0.14,"y":0.14},{"s":"Δ","x":0.18,"y":0.12},{"s":"Δ","x":0.22,"y":0.07},{"s":"Δ","x":0.27,"y":0.03},{"s":"Δ","x":0.33,"y":0},{"s":"Δ","x":0.6,"y":0},
{"s":"DIS","x":0,"y":0.85},{"s":"DIS","x":0.02,"y":1.1},{"s":"DIS","x":0.045,"y":1.3},{"s":"DIS","x":0.07,"y":1.38},{"s":"DIS","x":0.088,"y":1.4},{"s":"DIS","x":0.11,"y":1.35},{"s":"DIS","x":0.14,"y":1.26},{"s":"DIS","x":0.17,"y":1.0},{"s":"DIS","x":0.2,"y":0.7},{"s":"DIS","x":0.22,"y":0.47},{"s":"DIS","x":0.24,"y":0.25},{"s":"DIS","x":0.27,"y":0.1},{"s":"DIS","x":0.3,"y":0.02},{"s":"DIS","x":0.35,"y":0},{"s":"DIS","x":0.6,"y":0},
{"s":"2p2h","x":0,"y":0},{"s":"2p2h","x":0.05,"y":0.04},{"s":"2p2h","x":0.1,"y":0.08},{"s":"2p2h","x":0.15,"y":0.11},{"s":"2p2h","x":0.2,"y":0.09},{"s":"2p2h","x":0.25,"y":0.06},{"s":"2p2h","x":0.31,"y":0.05},{"s":"2p2h","x":0.38,"y":0.02},{"s":"2p2h","x":0.45,"y":0},{"s":"2p2h","x":0.6,"y":0},
{"s":"tot","x":0,"y":1.05},{"s":"tot","x":0.02,"y":1.5},{"s":"tot","x":0.045,"y":1.8},{"s":"tot","x":0.07,"y":1.95},{"s":"tot","x":0.088,"y":2.0},{"s":"tot","x":0.11,"y":1.97},{"s":"tot","x":0.14,"y":1.88},{"s":"tot","x":0.18,"y":1.6},{"s":"tot","x":0.22,"y":1.37},{"s":"tot","x":0.26,"y":1.05},{"s":"tot","x":0.3,"y":0.76},{"s":"tot","x":0.34,"y":0.5},{"s":"tot","x":0.38,"y":0.3},{"s":"tot","x":0.42,"y":0.17},{"s":"tot","x":0.47,"y":0.08},{"s":"tot","x":0.52,"y":0.02},{"s":"tot","x":0.6,"y":0}]
},
"hconcat":[
{"width":15,"height":651,"view":{"fill":"#0c3b9a","stroke":null},"data":{"values":[]},"mark":"point","encoding":{}},
{"vconcat":[
{"width":502,"height":3,"view":{"fill":"#08307f","stroke":null},"data":{"values":[]},"mark":"point","encoding":{}},
{"concat":[
{"width":98,"height":148,"layer":[{"data":{"name":"d1"},"mark":"line","encoding":{"x":{"field":"x","type":"quantitative","scale":{"domain":[0,7],"nice":false},"axis":{"values":[0,0.5,1,1.5,2,2.5,3,3.5,4,4.5,5,5.5,6,6.5,7],"labels":false,"title":null}},"y":{"field":"y","type":"quantitative","scale":{"domain":[0,5],"nice":false},"axis":{"values":[0,0.5,1,1.5,2,2.5,3,3.5,4,4.5],"title":null}},"color":{"field":"s","type":"nominal","scale":{"domain":["QE","Δ","DIS","2p2h","tot"],"range":["#2e8b2e","#ff0000","#ff00ff","#0000ff","#000000"]},"legend":{"title":null}},"strokeDash":{"field":"s","type":"nominal","scale":{"domain":["QE","Δ","DIS","2p2h","tot"],"range":[[7,6],[5,3,1.5,3,1.5,3],[16,7],[8,4,2,4],[1,0]]},"legend":{"title":null}}}},{"data":{"values":[{"t":"0.95"}]},"mark":{"type":"text","align":"right","baseline":"middle","dx":-7},"encoding":{"x":{"datum":7,"type":"quantitative","scale":{"domain":[0,7],"nice":false},"axis":{"orient":"top","values":[0,0.5,1,1.5,2,2.5,3,3.5,4,4.5,5,5.5,6,6.5,7],"labels":false,"title":null}},"y":{"datum":4.25,"type":"quantitative","scale":{"domain":[0,5],"nice":false},"axis":{"orient":"right","labels":false,"title":null}},"text":{"field":"t"}}}],"resolve":{"axis":{"x":"independent","y":"independent"}}},
{"width":98,"height":148,"layer":[{"data":{"name":"d2"},"mark":"line","encoding":{"x":{"field":"x","type":"quantitative","scale":{"domain":[0,1.2],"nice":false},"axis":{"values":[0,0.1,0.2,0.3,0.4,0.5,0.6,0.7,0.8,0.9,1,1.1,1.2],"labels":false,"title":null}},"y":{"field":"y","type":"quantitative","scale":{"domain":[0,5],"nice":false},"axis":{"labels":false,"title":null}},"color":{"field":"s","type":"nominal","scale":{"domain":["QE","Δ","DIS","2p2h","tot"],"range":["#2e8b2e","#ff0000","#ff00ff","#0000ff","#000000"]},"legend":{"title":null}},"strokeDash":{"field":"s","type":"nominal","scale":{"domain":["QE","Δ","DIS","2p2h","tot"],"range":[[7,6],[5,3,1.5,3,1.5,3],[16,7],[8,4,2,4],[1,0]]},"legend":{"title":null}}}},{"data":{"values":[{"t":"0.55"}]},"mark":{"type":"text","align":"right","baseline":"middle","dx":-7},"encoding":{"x":{"datum":1.2,"type":"quantitative","scale":{"domain":[0,1.2],"nice":false},"axis":{"orient":"top","values":[0,0.1,0.2,0.3,0.4,0.5,0.6,0.7,0.8,0.9,1,1.1,1.2],"labels":false,"title":null}},"y":{"datum":4.25,"type":"quantitative","scale":{"domain":[0,5],"nice":false},"axis":{"orient":"right","labels":false,"title":null}},"text":{"field":"t"}}}],"resolve":{"axis":{"x":"independent","y":"independent"}}},
{"width":98,"height":148,"layer":[{"data":{"name":"d3"},"mark":"line","encoding":{"x":{"field":"x","type":"quantitative","scale":{"domain":[0,0.9],"nice":false},"axis":{"values":[0,0.1,0.2,0.3,0.4,0.5,0.6,0.7,0.8,0.9],"labels":false,"title":null}},"y":{"field":"y","type":"quantitative","scale":{"domain":[0,5],"nice":false},"axis":{"labels":false,"title":null}},"color":{"field":"s","type":"nominal","scale":{"domain":["QE","Δ","DIS","2p2h","tot"],"range":["#2e8b2e","#ff0000","#ff00ff","#0000ff","#000000"]},"legend":{"title":null}},"strokeDash":{"field":"s","type":"nominal","scale":{"domain":["QE","Δ","DIS","2p2h","tot"],"range":[[7,6],[5,3,1.5,3,1.5,3],[16,7],[8,4,2,4],[1,0]]},"legend":{"title":null}}}},{"data":{"values":[{"t":"0.15"}]},"mark":{"type":"text","align":"right","baseline":"middle","dx":-7},"encoding":{"x":{"datum":0.9,"type":"quantitative","scale":{"domain":[0,0.9],"nice":false},"axis":{"orient":"top","values":[0,0.1,0.2,0.3,0.4,0.5,0.6,0.7,0.8,0.9],"labels":false,"title":null}},"y":{"datum":4.25,"type":"quantitative","scale":{"domain":[0,5],"nice":false},"axis":{"orient":"right","labels":false,"title":null}},"text":{"field":"t"}}},{"data":{"values":[{"t":"x 10"}]},"mark":{"type":"text","align":"right","baseline":"middle","dx":-7},"encoding":{"x":{"datum":0.9,"type":"quantitative","scale":{"domain":[0,0.9],"nice":false},"axis":null},"y":{"datum":3.23,"type":"quantitative","scale":{"domain":[0,5],"nice":false},"axis":null},"text":{"field":"t"}}}],"resolve":{"axis":{"x":"independent","y":"independent"}}},
{"width":98,"height":148,"layer":[{"data":{"name":"d4"},"mark":"line","encoding":{"x":{"field":"x","type":"quantitative","scale":{"domain":[0,0.68],"nice":false},"axis":{"values":[0,0.1,0.2,0.3,0.4,0.5,0.6],"labels":false,"title":null}},"y":{"field":"y","type":"quantitative","scale":{"domain":[0,5],"nice":false},"axis":{"labels":false,"title":null}},"color":{"field":"s","type":"nominal","scale":{"domain":["QE","Δ","DIS","2p2h","tot"],"range":["#2e8b2e","#ff0000","#ff00ff","#0000ff","#000000"]},"legend":{"title":null}},"strokeDash":{"field":"s","type":"nominal","scale":{"domain":["QE","Δ","DIS","2p2h","tot"],"range":[[7,6],[5,3,1.5,3,1.5,3],[16,7],[8,4,2,4],[1,0]]},"legend":{"title":null}}}},{"data":{"values":[{"t":"-0.25"}]},"mark":{"type":"text","align":"right","baseline":"middle","dx":-7},"encoding":{"x":{"datum":0.68,"type":"quantitative","scale":{"domain":[0,0.68],"nice":false},"axis":{"orient":"top","values":[0,0.1,0.2,0.3,0.4,0.5,0.6],"labels":false,"title":null}},"y":{"datum":4.25,"type":"quantitative","scale":{"domain":[0,5],"nice":false},"axis":{"orient":"right","labels":false,"title":null}},"text":{"field":"t"}}},{"data":{"values":[{"t":"x 10"}]},"mark":{"type":"text","align":"right","baseline":"middle","dx":-7},"encoding":{"x":{"datum":0.68,"type":"quantitative","scale":{"domain":[0,0.68],"nice":false},"axis":null},"y":{"datum":3.23,"type":"quantitative","scale":{"domain":[0,5],"nice":false},"axis":null},"text":{"field":"t"}}}],"resolve":{"axis":{"x":"independent","y":"independent"}}},
{"width":98,"height":148,"layer":[{"data":{"name":"d5"},"mark":"line","encoding":{"x":{"field":"x","type":"quantitative","scale":{"domain":[0,0.6],"nice":false},"axis":{"values":[0,0.1,0.2,0.3,0.4,0.5,0.6],"labels":false,"title":null}},"y":{"field":"y","type":"quantitative","scale":{"domain":[0,5],"nice":false},"axis":{"labels":false,"title":null}},"color":{"field":"s","type":"nominal","scale":{"domain":["QE","Δ","DIS","2p2h","tot"],"range":["#2e8b2e","#ff0000","#ff00ff","#0000ff","#000000"]},"legend":{"title":null}},"strokeDash":{"field":"s","type":"nominal","scale":{"domain":["QE","Δ","DIS","2p2h","tot"],"range":[[7,6],[5,3,1.5,3,1.5,3],[16,7],[8,4,2,4],[1,0]]},"legend":{"title":null}}}},{"data":{"values":[{"t":"-0.65"}]},"mark":{"type":"text","align":"right","baseline":"middle","dx":-7},"encoding":{"x":{"datum":0.6,"type":"quantitative","scale":{"domain":[0,0.6],"nice":false},"axis":{"orient":"top","values":[0,0.1,0.2,0.3,0.4,0.5,0.6],"labels":false,"title":null}},"y":{"datum":4.25,"type":"quantitative","scale":{"domain":[0,5],"nice":false},"axis":{"orient":"right","labels":false,"title":null}},"text":{"field":"t"}}},{"data":{"values":[{"t":"x 10"}]},"mark":{"type":"text","align":"right","baseline":"middle","dx":-7},"encoding":{"x":{"datum":0.6,"type":"quantitative","scale":{"domain":[0,0.6],"nice":false},"axis":null},"y":{"datum":3.23,"type":"quantitative","scale":{"domain":[0,5],"nice":false},"axis":null},"text":{"field":"t"}}}],"resolve":{"axis":{"x":"independent","y":"independent"}}},
{"width":98,"height":148,"layer":[{"data":{"name":"d6"},"mark":"line","encoding":{"x":{"field":"x","type":"quantitative","scale":{"domain":[0,7],"nice":false},"axis":{"values":[0,0.5,1,1.5,2,2.5,3,3.5,4,4.5,5,5.5,6,6.5,7],"labels":false,"title":null}},"y":{"field":"y","type":"quantitative","scale":{"domain":[0,5],"nice":false},"axis":{"values":[0,0.5,1,1.5,2,2.5,3,3.5,4,4.5],"title":"dσ/(dcosθμ dTμ)/A (10⁻³⁸ cm²/GeV)","titleY":128,"titlePadding":17}},"color":{"field":"s","type":"nominal","scale":{"domain":["QE","Δ","DIS","2p2h","tot"],"range":["#2e8b2e","#ff0000","#ff00ff","#0000ff","#000000"]},"legend":{"title":null}},"strokeDash":{"field":"s","type":"nominal","scale":{"domain":["QE","Δ","DIS","2p2h","tot"],"range":[[7,6],[5,3,1.5,3,1.5,3],[16,7],[8,4,2,4],[1,0]]},"legend":{"title":null}}}},{"data":{"values":[{"t":"0.85"}]},"mark":{"type":"text","align":"right","baseline":"middle","dx":-7},"encoding":{"x":{"datum":7,"type":"quantitative","scale":{"domain":[0,7],"nice":false},"axis":{"orient":"top","values":[0,0.5,1,1.5,2,2.5,3,3.5,4,4.5,5,5.5,6,6.5,7],"labels":false,"title":null}},"y":{"datum":4.25,"type":"quantitative","scale":{"domain":[0,5],"nice":false},"axis":{"orient":"right","labels":false,"title":null}},"text":{"field":"t"}}}],"resolve":{"axis":{"x":"independent","y":"independent"}}},
{"width":98,"height":148,"layer":[{"data":{"name":"d7"},"mark":"line","encoding":{"x":{"field":"x","type":"quantitative","scale":{"domain":[0,1.2],"nice":false},"axis":{"values":[0,0.1,0.2,0.3,0.4,0.5,0.6,0.7,0.8,0.9,1,1.1,1.2],"labels":false,"title":null}},"y":{"field":"y","type":"quantitative","scale":{"domain":[0,5],"nice":false},"axis":{"labels":false,"title":null}},"color":{"field":"s","type":"nominal","scale":{"domain":["QE","Δ","DIS","2p2h","tot"],"range":["#2e8b2e","#ff0000","#ff00ff","#0000ff","#000000"]},"legend":{"title":null}},"strokeDash":{"field":"s","type":"nominal","scale":{"domain":["QE","Δ","DIS","2p2h","tot"],"range":[[7,6],[5,3,1.5,3,1.5,3],[16,7],[8,4,2,4],[1,0]]},"legend":{"title":null}}}},{"data":{"values":[{"t":"0.45"}]},"mark":{"type":"text","align":"right","baseline":"middle","dx":-7},"encoding":{"x":{"datum":1.2,"type":"quantitative","scale":{"domain":[0,1.2],"nice":false},"axis":{"orient":"top","values":[0,0.1,0.2,0.3,0.4,0.5,0.6,0.7,0.8,0.9,1,1.1,1.2],"labels":false,"title":null}},"y":{"datum":4.25,"type":"quantitative","scale":{"domain":[0,5],"nice":false},"axis":{"orient":"right","labels":false,"title":null}},"text":{"field":"t"}}}],"resolve":{"axis":{"x":"independent","y":"independent"}}},
{"width":98,"height":148,"layer":[{"data":{"name":"d8"},"mark":"line","encoding":{"x":{"field":"x","type":"quantitative","scale":{"domain":[0,0.9],"nice":false},"axis":{"values":[0,0.1,0.2,0.3,0.4,0.5,0.6,0.7,0.8,0.9],"labels":false,"title":null}},"y":{"field":"y","type":"quantitative","scale":{"domain":[0,5],"nice":false},"axis":{"labels":false,"title":null}},"color":{"field":"s","type":"nominal","scale":{"domain":["QE","Δ","DIS","2p2h","tot"],"range":["#2e8b2e","#ff0000","#ff00ff","#0000ff","#000000"]},"legend":{"title":null}},"strokeDash":{"field":"s","type":"nominal","scale":{"domain":["QE","Δ","DIS","2p2h","tot"],"range":[[7,6],[5,3,1.5,3,1.5,3],[16,7],[8,4,2,4],[1,0]]},"legend":{"title":null}}}},{"data":{"values":[{"t":"0.05"}]},"mark":{"type":"text","align":"right","baseline":"middle","dx":-7},"encoding":{"x":{"datum":0.9,"type":"quantitative","scale":{"domain":[0,0.9],"nice":false},"axis":{"orient":"top","values":[0,0.1,0.2,0.3,0.4,0.5,0.6,0.7,0.8,0.9],"labels":false,"title":null}},"y":{"datum":4.25,"type":"quantitative","scale":{"domain":[0,5],"nice":false},"axis":{"orient":"right","labels":false,"title":null}},"text":{"field":"t"}}},{"data":{"values":[{"t":"x 10"}]},"mark":{"type":"text","align":"right","baseline":"middle","dx":-7},"encoding":{"x":{"datum":0.9,"type":"quantitative","scale":{"domain":[0,0.9],"nice":false},"axis":null},"y":{"datum":3.23,"type":"quantitative","scale":{"domain":[0,5],"nice":false},"axis":null},"text":{"field":"t"}}}],"resolve":{"axis":{"x":"independent","y":"independent"}}},
{"width":98,"height":148,"layer":[{"data":{"name":"d9"},"mark":"line","encoding":{"x":{"field":"x","type":"quantitative","scale":{"domain":[0,0.68],"nice":false},"axis":{"values":[0,0.1,0.2,0.3,0.4,0.5,0.6],"labels":false,"title":null}},"y":{"field":"y","type":"quantitative","scale":{"domain":[0,5],"nice":false},"axis":{"labels":false,"title":null}},"color":{"field":"s","type":"nominal","scale":{"domain":["QE","Δ","DIS","2p2h","tot"],"range":["#2e8b2e","#ff0000","#ff00ff","#0000ff","#000000"]},"legend":{"title":null}},"strokeDash":{"field":"s","type":"nominal","scale":{"domain":["QE","Δ","DIS","2p2h","tot"],"range":[[7,6],[5,3,1.5,3,1.5,3],[16,7],[8,4,2,4],[1,0]]},"legend":{"title":null}}}},{"data":{"values":[{"t":"-0.35"}]},"mark":{"type":"text","align":"right","baseline":"middle","dx":-7},"encoding":{"x":{"datum":0.68,"type":"quantitative","scale":{"domain":[0,0.68],"nice":false},"axis":{"orient":"top","values":[0,0.1,0.2,0.3,0.4,0.5,0.6],"labels":false,"title":null}},"y":{"datum":4.25,"type":"quantitative","scale":{"domain":[0,5],"nice":false},"axis":{"orient":"right","labels":false,"title":null}},"text":{"field":"t"}}},{"data":{"values":[{"t":"x 10"}]},"mark":{"type":"text","align":"right","baseline":"middle","dx":-7},"encoding":{"x":{"datum":0.68,"type":"quantitative","scale":{"domain":[0,0.68],"nice":false},"axis":null},"y":{"datum":3.23,"type":"quantitative","scale":{"domain":[0,5],"nice":false},"axis":null},"text":{"field":"t"}}}],"resolve":{"axis":{"x":"independent","y":"independent"}}},
{"width":98,"height":148,"layer":[{"data":{"name":"d10"},"mark":"line","encoding":{"x":{"field":"x","type":"quantitative","scale":{"domain":[0,0.6],"nice":false},"axis":{"values":[0,0.1,0.2,0.3,0.4,0.5,0.6],"labels":false,"title":null}},"y":{"field":"y","type":"quantitative","scale":{"domain":[0,5],"nice":false},"axis":{"labels":false,"title":null}},"color":{"field":"s","type":"nominal","scale":{"domain":["QE","Δ","DIS","2p2h","tot"],"range":["#2e8b2e","#ff0000","#ff00ff","#0000ff","#000000"]},"legend":{"title":null}},"strokeDash":{"field":"s","type":"nominal","scale":{"domain":["QE","Δ","DIS","2p2h","tot"],"range":[[7,6],[5,3,1.5,3,1.5,3],[16,7],[8,4,2,4],[1,0]]},"legend":{"title":null}}}},{"data":{"values":[{"t":"-0.75"}]},"mark":{"type":"text","align":"right","baseline":"middle","dx":-7},"encoding":{"x":{"datum":0.6,"type":"quantitative","scale":{"domain":[0,0.6],"nice":false},"axis":{"orient":"top","values":[0,0.1,0.2,0.3,0.4,0.5,0.6],"labels":false,"title":null}},"y":{"datum":4.25,"type":"quantitative","scale":{"domain":[0,5],"nice":false},"axis":{"orient":"right","labels":false,"title":null}},"text":{"field":"t"}}},{"data":{"values":[{"t":"x 10"}]},"mark":{"type":"text","align":"right","baseline":"middle","dx":-7},"encoding":{"x":{"datum":0.6,"type":"quantitative","scale":{"domain":[0,0.6],"nice":false},"axis":null},"y":{"datum":3.23,"type":"quantitative","scale":{"domain":[0,5],"nice":false},"axis":null},"text":{"field":"t"}}}],"resolve":{"axis":{"x":"independent","y":"independent"}}},
{"width":98,"height":148,"layer":[{"data":{"name":"d11"},"mark":"line","encoding":{"x":{"field":"x","type":"quantitative","scale":{"domain":[0,7],"nice":false},"axis":{"values":[0,0.5,1,1.5,2,2.5,3,3.5,4,4.5,5,5.5,6,6.5,7],"labels":false,"title":null}},"y":{"field":"y","type":"quantitative","scale":{"domain":[0,5],"nice":false},"axis":{"values":[0,0.5,1,1.5,2,2.5,3,3.5,4,4.5],"title":null}},"color":{"field":"s","type":"nominal","scale":{"domain":["QE","Δ","DIS","2p2h","tot"],"range":["#2e8b2e","#ff0000","#ff00ff","#0000ff","#000000"]},"legend":{"title":null}},"strokeDash":{"field":"s","type":"nominal","scale":{"domain":["QE","Δ","DIS","2p2h","tot"],"range":[[7,6],[5,3,1.5,3,1.5,3],[16,7],[8,4,2,4],[1,0]]},"legend":{"title":null}}}},{"data":{"values":[{"t":"0.75"}]},"mark":{"type":"text","align":"right","baseline":"middle","dx":-7},"encoding":{"x":{"datum":7,"type":"quantitative","scale":{"domain":[0,7],"nice":false},"axis":{"orient":"top","values":[0,0.5,1,1.5,2,2.5,3,3.5,4,4.5,5,5.5,6,6.5,7],"labels":false,"title":null}},"y":{"datum":4.25,"type":"quantitative","scale":{"domain":[0,5],"nice":false},"axis":{"orient":"right","labels":false,"title":null}},"text":{"field":"t"}}}],"resolve":{"axis":{"x":"independent","y":"independent"}}},
{"width":98,"height":148,"layer":[{"data":{"name":"d12"},"mark":"line","encoding":{"x":{"field":"x","type":"quantitative","scale":{"domain":[0,1.2],"nice":false},"axis":{"values":[0,0.1,0.2,0.3,0.4,0.5,0.6,0.7,0.8,0.9,1,1.1,1.2],"labels":false,"title":null}},"y":{"field":"y","type":"quantitative","scale":{"domain":[0,5],"nice":false},"axis":{"labels":false,"title":null}},"color":{"field":"s","type":"nominal","scale":{"domain":["QE","Δ","DIS","2p2h","tot"],"range":["#2e8b2e","#ff0000","#ff00ff","#0000ff","#000000"]},"legend":{"title":null}},"strokeDash":{"field":"s","type":"nominal","scale":{"domain":["QE","Δ","DIS","2p2h","tot"],"range":[[7,6],[5,3,1.5,3,1.5,3],[16,7],[8,4,2,4],[1,0]]},"legend":{"title":null}}}},{"data":{"values":[{"t":"0.35"}]},"mark":{"type":"text","align":"right","baseline":"middle","dx":-7},"encoding":{"x":{"datum":1.2,"type":"quantitative","scale":{"domain":[0,1.2],"nice":false},"axis":{"orient":"top","values":[0,0.1,0.2,0.3,0.4,0.5,0.6,0.7,0.8,0.9,1,1.1,1.2],"labels":false,"title":null}},"y":{"datum":4.25,"type":"quantitative","scale":{"domain":[0,5],"nice":false},"axis":{"orient":"right","labels":false,"title":null}},"text":{"field":"t"}}}],"resolve":{"axis":{"x":"independent","y":"independent"}}},
{"width":98,"height":148,"layer":[{"data":{"name":"d13"},"mark":"line","encoding":{"x":{"field":"x","type":"quantitative","scale":{"domain":[0,0.9],"nice":false},"axis":{"values":[0,0.1,0.2,0.3,0.4,0.5,0.6,0.7,0.8,0.9],"labels":false,"title":null}},"y":{"field":"y","type":"quantitative","scale":{"domain":[0,5],"nice":false},"axis":{"labels":false,"title":null}},"color":{"field":"s","type":"nominal","scale":{"domain":["QE","Δ","DIS","2p2h","tot"],"range":["#2e8b2e","#ff0000","#ff00ff","#0000ff","#000000"]},"legend":{"title":null}},"strokeDash":{"field":"s","type":"nominal","scale":{"domain":["QE","Δ","DIS","2p2h","tot"],"range":[[7,6],[5,3,1.5,3,1.5,3],[16,7],[8,4,2,4],[1,0]]},"legend":{"title":null}}}},{"data":{"values":[{"t":"-0.05"}]},"mark":{"type":"text","align":"right","baseline":"middle","dx":-7},"encoding":{"x":{"datum":0.9,"type":"quantitative","scale":{"domain":[0,0.9],"nice":false},"axis":{"orient":"top","values":[0,0.1,0.2,0.3,0.4,0.5,0.6,0.7,0.8,0.9],"labels":false,"title":null}},"y":{"datum":4.25,"type":"quantitative","scale":{"domain":[0,5],"nice":false},"axis":{"orient":"right","labels":false,"title":null}},"text":{"field":"t"}}},{"data":{"values":[{"t":"x 10"}]},"mark":{"type":"text","align":"right","baseline":"middle","dx":-7},"encoding":{"x":{"datum":0.9,"type":"quantitative","scale":{"domain":[0,0.9],"nice":false},"axis":null},"y":{"datum":3.23,"type":"quantitative","scale":{"domain":[0,5],"nice":false},"axis":null},"text":{"field":"t"}}}],"resolve":{"axis":{"x":"independent","y":"independent"}}},
{"width":98,"height":148,"layer":[{"data":{"name":"d14"},"mark":"line","encoding":{"x":{"field":"x","type":"quantitative","scale":{"domain":[0,0.68],"nice":false},"axis":{"values":[0,0.1,0.2,0.3,0.4,0.5,0.6],"labels":false,"title":null}},"y":{"field":"y","type":"quantitative","scale":{"domain":[0,5],"nice":false},"axis":{"labels":false,"title":null}},"color":{"field":"s","type":"nominal","scale":{"domain":["QE","Δ","DIS","2p2h","tot"],"range":["#2e8b2e","#ff0000","#ff00ff","#0000ff","#000000"]},"legend":{"title":null}},"strokeDash":{"field":"s","type":"nominal","scale":{"domain":["QE","Δ","DIS","2p2h","tot"],"range":[[7,6],[5,3,1.5,3,1.5,3],[16,7],[8,4,2,4],[1,0]]},"legend":{"title":null}}}},{"data":{"values":[{"t":"-0.45"}]},"mark":{"type":"text","align":"right","baseline":"middle","dx":-7},"encoding":{"x":{"datum":0.68,"type":"quantitative","scale":{"domain":[0,0.68],"nice":false},"axis":{"orient":"top","values":[0,0.1,0.2,0.3,0.4,0.5,0.6],"labels":false,"title":null}},"y":{"datum":4.25,"type":"quantitative","scale":{"domain":[0,5],"nice":false},"axis":{"orient":"right","labels":false,"title":null}},"text":{"field":"t"}}},{"data":{"values":[{"t":"x 10"}]},"mark":{"type":"text","align":"right","baseline":"middle","dx":-7},"encoding":{"x":{"datum":0.68,"type":"quantitative","scale":{"domain":[0,0.68],"nice":false},"axis":null},"y":{"datum":3.23,"type":"quantitative","scale":{"domain":[0,5],"nice":false},"axis":null},"text":{"field":"t"}}}],"resolve":{"axis":{"x":"independent","y":"independent"}}},
{"width":98,"height":148,"layer":[{"data":{"name":"d15"},"mark":"line","encoding":{"x":{"field":"x","type":"quantitative","scale":{"domain":[0,0.6],"nice":false},"axis":{"values":[0,0.1,0.2,0.3,0.4,0.5,0.6],"labels":false,"title":null}},"y":{"field":"y","type":"quantitative","scale":{"domain":[0,5],"nice":false},"axis":{"labels":false,"title":null}},"color":{"field":"s","type":"nominal","scale":{"domain":["QE","Δ","DIS","2p2h","tot"],"range":["#2e8b2e","#ff0000","#ff00ff","#0000ff","#000000"]},"legend":{"title":null}},"strokeDash":{"field":"s","type":"nominal","scale":{"domain":["QE","Δ","DIS","2p2h","tot"],"range":[[7,6],[5,3,1.5,3,1.5,3],[16,7],[8,4,2,4],[1,0]]},"legend":{"title":null}}}},{"data":{"values":[{"t":"-0.85"}]},"mark":{"type":"text","align":"right","baseline":"middle","dx":-7},"encoding":{"x":{"datum":0.6,"type":"quantitative","scale":{"domain":[0,0.6],"nice":false},"axis":{"orient":"top","values":[0,0.1,0.2,0.3,0.4,0.5,0.6],"labels":false,"title":null}},"y":{"datum":4.25,"type":"quantitative","scale":{"domain":[0,5],"nice":false},"axis":{"orient":"right","labels":false,"title":null}},"text":{"field":"t"}}},{"data":{"values":[{"t":"x 10"}]},"mark":{"type":"text","align":"right","baseline":"middle","dx":-7},"encoding":{"x":{"datum":0.6,"type":"quantitative","scale":{"domain":[0,0.6],"nice":false},"axis":null},"y":{"datum":3.23,"type":"quantitative","scale":{"domain":[0,5],"nice":false},"axis":null},"text":{"field":"t"}}}],"resolve":{"axis":{"x":"independent","y":"independent"}}},
{"width":98,"height":148,"layer":[{"data":{"name":"d16"},"mark":"line","encoding":{"x":{"field":"x","type":"quantitative","scale":{"domain":[0,7],"nice":false},"axis":{"values":[0,0.5,1,1.5,2,2.5,3,3.5,4,4.5,5,5.5,6,6.5,7],"labelExpr":"datum.value%1==0&&datum.value<7?''+datum.value:''","title":"Tμ"}},"y":{"field":"y","type":"quantitative","scale":{"domain":[0,5],"nice":false},"axis":{"values":[0,0.5,1,1.5,2,2.5,3,3.5,4,4.5],"title":null}},"color":{"field":"s","type":"nominal","scale":{"domain":["QE","Δ","DIS","2p2h","tot"],"range":["#2e8b2e","#ff0000","#ff00ff","#0000ff","#000000"]},"legend":{"title":null}},"strokeDash":{"field":"s","type":"nominal","scale":{"domain":["QE","Δ","DIS","2p2h","tot"],"range":[[7,6],[5,3,1.5,3,1.5,3],[16,7],[8,4,2,4],[1,0]]},"legend":{"title":null}}}},{"data":{"values":[{"t":"0.65"}]},"mark":{"type":"text","align":"right","baseline":"middle","dx":-7},"encoding":{"x":{"datum":7,"type":"quantitative","scale":{"domain":[0,7],"nice":false},"axis":{"orient":"top","values":[0,0.5,1,1.5,2,2.5,3,3.5,4,4.5,5,5.5,6,6.5,7],"labels":false,"title":null}},"y":{"datum":4.25,"type":"quantitative","scale":{"domain":[0,5],"nice":false},"axis":{"orient":"right","labels":false,"title":null}},"text":{"field":"t"}}}],"resolve":{"axis":{"x":"independent","y":"independent"}}},
{"width":98,"height":148,"layer":[{"data":{"name":"d17"},"mark":"line","encoding":{"x":{"field":"x","type":"quantitative","scale":{"domain":[0,1.2],"nice":false},"axis":{"values":[0,0.1,0.2,0.3,0.4,0.5,0.6,0.7,0.8,0.9,1,1.1,1.2],"labelExpr":"datum.value==0||datum.value==1?''+datum.value:''","title":"Tμ"}},"y":{"field":"y","type":"quantitative","scale":{"domain":[0,5],"nice":false},"axis":{"labels":false,"title":null}},"color":{"field":"s","type":"nominal","scale":{"domain":["QE","Δ","DIS","2p2h","tot"],"range":["#2e8b2e","#ff0000","#ff00ff","#0000ff","#000000"]},"legend":{"title":null}},"strokeDash":{"field":"s","type":"nominal","scale":{"domain":["QE","Δ","DIS","2p2h","tot"],"range":[[7,6],[5,3,1.5,3,1.5,3],[16,7],[8,4,2,4],[1,0]]},"legend":{"title":null}}}},{"data":{"values":[{"t":"0.25"}]},"mark":{"type":"text","align":"right","baseline":"middle","dx":-7},"encoding":{"x":{"datum":1.2,"type":"quantitative","scale":{"domain":[0,1.2],"nice":false},"axis":{"orient":"top","values":[0,0.1,0.2,0.3,0.4,0.5,0.6,0.7,0.8,0.9,1,1.1,1.2],"labels":false,"title":null}},"y":{"datum":4.25,"type":"quantitative","scale":{"domain":[0,5],"nice":false},"axis":{"orient":"right","labels":false,"title":null}},"text":{"field":"t"}}}],"resolve":{"axis":{"x":"independent","y":"independent"}}},
{"width":98,"height":148,"layer":[{"data":{"name":"d18"},"mark":"line","encoding":{"x":{"field":"x","type":"quantitative","scale":{"domain":[0,0.9],"nice":false},"axis":{"values":[0,0.1,0.2,0.3,0.4,0.5,0.6,0.7,0.8,0.9],"labelExpr":"datum.value==0||datum.value==0.5?''+datum.value:''","title":"Tμ"}},"y":{"field":"y","type":"quantitative","scale":{"domain":[0,5],"nice":false},"axis":{"labels":false,"title":null}},"color":{"field":"s","type":"nominal","scale":{"domain":["QE","Δ","DIS","2p2h","tot"],"range":["#2e8b2e","#ff0000","#ff00ff","#0000ff","#000000"]},"legend":{"title":null}},"strokeDash":{"field":"s","type":"nominal","scale":{"domain":["QE","Δ","DIS","2p2h","tot"],"range":[[7,6],[5,3,1.5,3,1.5,3],[16,7],[8,4,2,4],[1,0]]},"legend":{"title":null}}}},{"data":{"values":[{"t":"-0.15"}]},"mark":{"type":"text","align":"right","baseline":"middle","dx":-7},"encoding":{"x":{"datum":0.9,"type":"quantitative","scale":{"domain":[0,0.9],"nice":false},"axis":{"orient":"top","values":[0,0.1,0.2,0.3,0.4,0.5,0.6,0.7,0.8,0.9],"labels":false,"title":null}},"y":{"datum":4.25,"type":"quantitative","scale":{"domain":[0,5],"nice":false},"axis":{"orient":"right","labels":false,"title":null}},"text":{"field":"t"}}},{"data":{"values":[{"t":"x 10"}]},"mark":{"type":"text","align":"right","baseline":"middle","dx":-7},"encoding":{"x":{"datum":0.9,"type":"quantitative","scale":{"domain":[0,0.9],"nice":false},"axis":null},"y":{"datum":3.23,"type":"quantitative","scale":{"domain":[0,5],"nice":false},"axis":null},"text":{"field":"t"}}}],"resolve":{"axis":{"x":"independent","y":"independent"}}},
{"width":98,"height":148,"layer":[{"data":{"name":"d19"},"mark":"line","encoding":{"x":{"field":"x","type":"quantitative","scale":{"domain":[0,0.68],"nice":false},"axis":{"values":[0,0.1,0.2,0.3,0.4,0.5,0.6],"labelExpr":"datum.value==0||datum.value==0.5?''+datum.value:''","title":"Tμ"}},"y":{"field":"y","type":"quantitative","scale":{"domain":[0,5],"nice":false},"axis":{"labels":false,"title":null}},"color":{"field":"s","type":"nominal","scale":{"domain":["QE","Δ","DIS","2p2h","tot"],"range":["#2e8b2e","#ff0000","#ff00ff","#0000ff","#000000"]},"legend":{"title":null}},"strokeDash":{"field":"s","type":"nominal","scale":{"domain":["QE","Δ","DIS","2p2h","tot"],"range":[[7,6],[5,3,1.5,3,1.5,3],[16,7],[8,4,2,4],[1,0]]},"legend":{"title":null}}}},{"data":{"values":[{"t":"-0.55"}]},"mark":{"type":"text","align":"right","baseline":"middle","dx":-7},"encoding":{"x":{"datum":0.68,"type":"quantitative","scale":{"domain":[0,0.68],"nice":false},"axis":{"orient":"top","values":[0,0.1,0.2,0.3,0.4,0.5,0.6],"labels":false,"title":null}},"y":{"datum":4.25,"type":"quantitative","scale":{"domain":[0,5],"nice":false},"axis":{"orient":"right","labels":false,"title":null}},"text":{"field":"t"}}},{"data":{"values":[{"t":"x 10"}]},"mark":{"type":"text","align":"right","baseline":"middle","dx":-7},"encoding":{"x":{"datum":0.68,"type":"quantitative","scale":{"domain":[0,0.68],"nice":false},"axis":null},"y":{"datum":3.23,"type":"quantitative","scale":{"domain":[0,5],"nice":false},"axis":null},"text":{"field":"t"}}}],"resolve":{"axis":{"x":"independent","y":"independent"}}},
{"width":98,"height":148,"layer":[{"data":{"name":"d20"},"mark":"line","encoding":{"x":{"field":"x","type":"quantitative","scale":{"domain":[0,0.6],"nice":false},"axis":{"values":[0,0.1,0.2,0.3,0.4,0.5,0.6],"labelExpr":"datum.value==0||datum.value==0.5?''+datum.value:''","title":"Tμ (GeV)"}},"y":{"field":"y","type":"quantitative","scale":{"domain":[0,5],"nice":false},"axis":{"labels":false,"title":null}},"color":{"field":"s","type":"nominal","scale":{"domain":["QE","Δ","DIS","2p2h","tot"],"range":["#2e8b2e","#ff0000","#ff00ff","#0000ff","#000000"]},"legend":{"title":null}},"strokeDash":{"field":"s","type":"nominal","scale":{"domain":["QE","Δ","DIS","2p2h","tot"],"range":[[7,6],[5,3,1.5,3,1.5,3],[16,7],[8,4,2,4],[1,0]]},"legend":{"title":null}}}},{"data":{"values":[{"t":"-0.95"}]},"mark":{"type":"text","align":"right","baseline":"middle","dx":-7},"encoding":{"x":{"datum":0.6,"type":"quantitative","scale":{"domain":[0,0.6],"nice":false},"axis":{"orient":"top","values":[0,0.1,0.2,0.3,0.4,0.5,0.6],"labels":false,"title":null}},"y":{"datum":4.25,"type":"quantitative","scale":{"domain":[0,5],"nice":false},"axis":{"orient":"right","labels":false,"title":null}},"text":{"field":"t"}}},{"data":{"values":[{"t":"x 10"}]},"mark":{"type":"text","align":"right","baseline":"middle","dx":-7},"encoding":{"x":{"datum":0.6,"type":"quantitative","scale":{"domain":[0,0.6],"nice":false},"axis":null},"y":{"datum":3.23,"type":"quantitative","scale":{"domain":[0,5],"nice":false},"axis":null},"text":{"field":"t"}}}],"resolve":{"axis":{"x":"independent","y":"independent"}}}
],"columns":5,"spacing":0,"bounds":"flush"}
],"spacing":4}
],
"spacing":20
}
